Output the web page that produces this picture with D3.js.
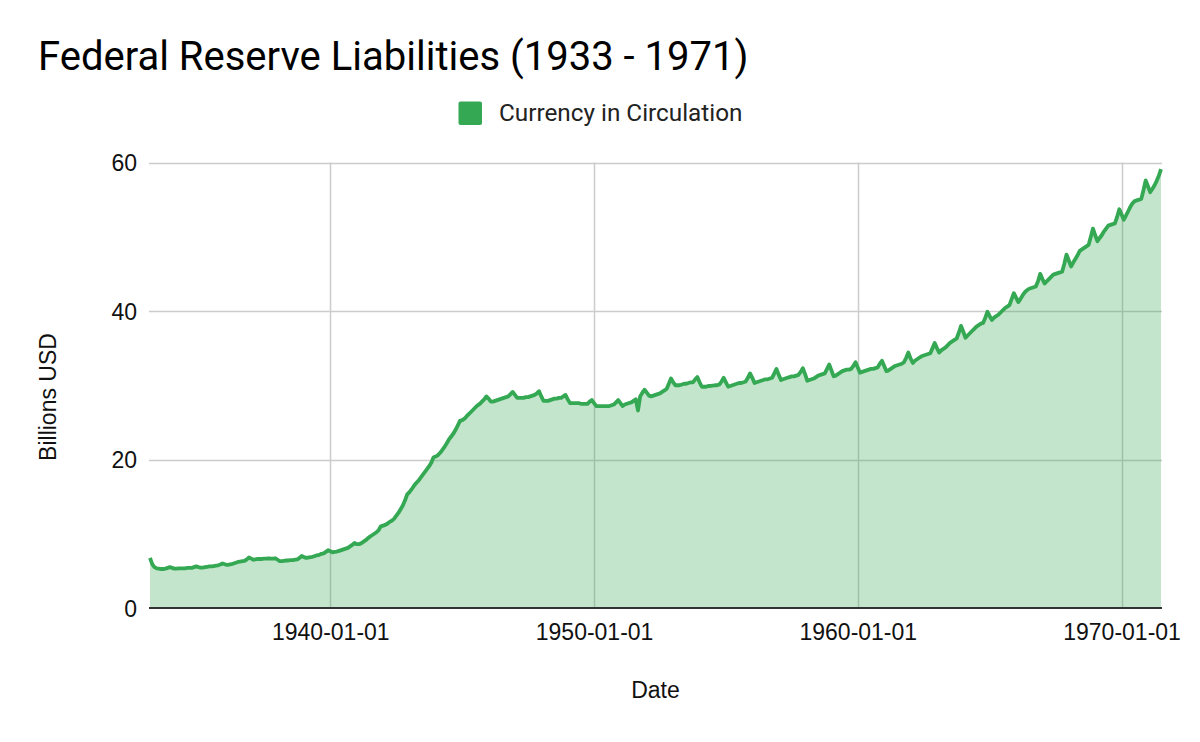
<!DOCTYPE html>
<html>
<head>
<meta charset="utf-8">
<script src="https://cdn.jsdelivr.net/npm/d3@7"></script>
<style>
  html, body { margin: 0; padding: 0; background: #fff; }
  svg { display: block; }
</style>
</head>
<body>
<svg id="chart" width="1200" height="742"></svg>
<script>
// ---- Data (monthly, billions USD) ----
const seriesName = "Currency in Circulation";
const firstMonth = "1933-03";   // first observation
// 1933 (Mar-Dec) through 1939
const currency1930s = [
  6.75, 5.9, 5.5, 5.35, 5.3, 5.25, 5.25, 5.3, 5.4, 5.5,
  5.4, 5.3, 5.3, 5.35, 5.35, 5.35, 5.35, 5.4, 5.4, 5.4, 5.5, 5.6,
  5.5, 5.45, 5.45, 5.5, 5.55, 5.6, 5.6, 5.65, 5.7, 5.75, 5.85, 6.0,
  5.9, 5.8, 5.85, 5.9, 6.0, 6.1, 6.2, 6.25, 6.3, 6.35, 6.55, 6.8,
  6.65, 6.5, 6.55, 6.6, 6.6, 6.6, 6.65, 6.65, 6.7, 6.65, 6.65, 6.7,
  6.5, 6.3, 6.3, 6.35, 6.4, 6.4, 6.45, 6.45, 6.5, 6.55, 6.75, 7.0,
  6.85, 6.75, 6.8, 6.85, 6.9, 7.0, 7.1, 7.15, 7.3, 7.35, 7.55, 7.8
];
const currency1940s = [
  7.65, 7.5, 7.55, 7.6, 7.7, 7.8, 7.9, 8.0, 8.1, 8.3, 8.5, 8.75,
  8.6, 8.6, 8.7, 8.9, 9.1, 9.35, 9.6, 9.8, 10.0, 10.2, 10.5, 11.0,
  11.1, 11.2, 11.35, 11.6, 11.75, 12.0, 12.4, 12.8, 13.3, 13.8, 14.5, 15.3,
  15.6, 16.0, 16.4, 16.8, 17.1, 17.5, 17.9, 18.3, 18.7, 19.1, 19.6, 20.3,
  20.4, 20.6, 20.9, 21.3, 21.7, 22.2, 22.7, 23.1, 23.5, 24.0, 24.6, 25.2,
  25.3, 25.5, 25.8, 26.1, 26.4, 26.7, 27.0, 27.3, 27.5, 27.8, 28.1, 28.5,
  28.2, 27.8, 27.8, 27.9, 28.0, 28.1, 28.2, 28.3, 28.4, 28.5, 28.8, 29.1,
  28.7, 28.3, 28.3, 28.3, 28.3, 28.4, 28.4, 28.5, 28.6, 28.7, 28.9, 29.2,
  28.5, 27.9, 27.9, 27.9, 28.0, 28.1, 28.2, 28.2, 28.3, 28.3, 28.5, 28.7,
  28.1, 27.6, 27.6, 27.6, 27.6, 27.6, 27.5, 27.5, 27.5, 27.5, 27.8, 28.0
];
const currency1950s = [
  27.6, 27.2, 27.2, 27.2, 27.2, 27.2, 27.2, 27.2, 27.3, 27.4, 27.7, 28.0,
  27.6, 27.2, 27.4, 27.5, 27.6, 27.7, 27.9, 28.1, 26.6, 28.5, 29.0, 29.4,
  29.0, 28.6, 28.5, 28.6, 28.7, 28.8, 28.9, 29.1, 29.3, 29.5, 30.2, 30.9,
  30.4, 30.0, 30.0, 30.0, 30.1, 30.2, 30.2, 30.3, 30.4, 30.4, 30.8, 31.1,
  30.4, 29.8, 29.8, 29.8, 29.9, 29.9, 29.95, 30.0, 30.0, 30.1, 30.5, 31.0,
  30.4, 29.8, 29.9, 30.0, 30.1, 30.2, 30.3, 30.3, 30.4, 30.5, 31.0, 31.6,
  31.0, 30.3, 30.4, 30.5, 30.6, 30.7, 30.8, 30.8, 30.9, 31.0, 31.6, 32.2,
  31.4, 30.7, 30.8, 30.9, 31.0, 31.1, 31.2, 31.2, 31.3, 31.4, 31.8, 32.3,
  31.5, 30.6, 30.7, 30.8, 30.9, 31.1, 31.3, 31.4, 31.5, 31.6, 32.2, 32.8,
  32.0, 31.2, 31.3, 31.5, 31.7, 31.9, 32.0, 32.1, 32.1, 32.2, 32.6, 33.1
];
const currency1960s = [
  32.4, 31.7, 31.8, 31.9, 32.0, 32.1, 32.2, 32.2, 32.3, 32.4, 32.9, 33.3,
  32.6, 31.9, 32.0, 32.2, 32.4, 32.6, 32.7, 32.8, 32.9, 33.1, 33.7, 34.4,
  33.6, 33.0, 33.3, 33.5, 33.7, 33.9, 34.0, 34.1, 34.2, 34.3, 35.0, 35.7,
  35.0, 34.4, 34.7, 34.9, 35.1, 35.4, 35.7, 35.9, 36.1, 36.3, 37.1, 38.0,
  37.2, 36.4, 36.7, 37.0, 37.3, 37.6, 37.9, 38.1, 38.3, 38.4, 39.1, 39.9,
  39.3, 38.8, 39.1, 39.3, 39.5, 39.8, 40.1, 40.4, 40.6, 40.8, 41.6, 42.4,
  41.8, 41.2, 41.6, 42.1, 42.5, 42.8, 43.0, 43.1, 43.2, 43.3, 44.0, 45.0,
  44.3, 43.7, 44.0, 44.3, 44.6, 44.9, 45.0, 45.1, 45.2, 45.3, 46.4, 47.6,
  46.8, 46.0, 46.5, 47.0, 47.5, 48.1, 48.3, 48.5, 48.7, 48.9, 50.0, 51.1,
  50.2, 49.4, 49.8, 50.2, 50.7, 51.1, 51.5, 51.6, 51.7, 51.8, 52.7, 53.7
];
// 1970 through Jul 1971
const currency1970s = [
  53.0, 52.3, 52.8, 53.4, 54.0, 54.5, 54.8, 54.9, 55.0, 55.1, 56.3, 57.6,
  56.8, 56.0, 56.4, 56.9, 57.5, 58.2, 59.1
];
const yTicks = [0, 20, 40, 60];
const xTickLabels = ["1940-01-01", "1950-01-01", "1960-01-01", "1970-01-01"];

// ---- Build the table ----
const allValues = [].concat(currency1930s, currency1940s, currency1950s, currency1960s, currency1970s);
const parseMonth = d3.timeParse("%Y-%m");
const parseDay = d3.timeParse("%Y-%m-%d");
const startDate = parseMonth(firstMonth);
const data = allValues.map((v, i) => ({ date: d3.timeMonth.offset(startDate, i), value: v }));

// ---- Layout ----
const svg = d3.select("#chart");
const plotL = 150, plotR = 1161, plotT = 162.5, plotB = 608;
const green = "#34a853";

const x = d3.scaleTime().domain(d3.extent(data, d => d.date)).range([plotL, plotR]);
const y = d3.scaleLinear().domain([0, 60]).range([plotB, plotT]);

// Title
svg.append("text")
  .attr("x", 38).attr("y", 70)
  .attr("font-family", "Roboto, 'Liberation Sans', Arial, sans-serif")
  .attr("font-size", 40).attr("fill", "#000")
  .text("Federal Reserve Liabilities (1933 - 1971)");

// Legend
const legend = svg.append("g");
legend.append("rect")
  .attr("x", 458.5).attr("y", 101.5).attr("width", 23.5).attr("height", 23.5)
  .attr("rx", 2).attr("fill", green);
legend.append("text")
  .attr("x", 499).attr("y", 121)
  .attr("font-family", "Roboto, 'Liberation Sans', Arial, sans-serif")
  .attr("font-size", 24.3).attr("fill", "#222")
  .text(seriesName);

// Gridlines
const grid = svg.append("g");
grid.selectAll("line.h").data(yTicks.filter(t => t > 0)).enter().append("line")
  .attr("x1", plotL - 1).attr("x2", plotR + 1)
  .attr("y1", d => Math.round(y(d)) + 0.5).attr("y2", d => Math.round(y(d)) + 0.5)
  .attr("stroke", "#cccccc").attr("stroke-width", 1.5);
const xTickDates = xTickLabels.map(parseDay);
grid.selectAll("line.v").data(xTickDates).enter().append("line")
  .attr("x1", d => Math.round(x(d)) + 0.5).attr("x2", d => Math.round(x(d)) + 0.5)
  .attr("y1", plotT).attr("y2", plotB)
  .attr("stroke", "#cccccc").attr("stroke-width", 1.5);

// Area + line
const area = d3.area().x(d => x(d.date)).y0(y(0)).y1(d => y(d.value));
const line = d3.line().x(d => x(d.date)).y(d => y(d.value));
svg.append("path").datum(data).attr("d", area)
  .attr("fill", green).attr("fill-opacity", 0.3);
svg.append("path").datum(data).attr("d", line)
  .attr("fill", "none").attr("stroke", green).attr("stroke-width", 3.8)
  .attr("stroke-linejoin", "round").attr("stroke-linecap", "butt");

// Baseline (zero)
svg.append("line")
  .attr("x1", plotL - 1).attr("x2", plotR + 1)
  .attr("y1", y(0)).attr("y2", y(0))
  .attr("stroke", "#333333").attr("stroke-width", 2);

// Y axis labels
const yAxis = d3.axisLeft(y).tickValues(yTicks).tickSize(0).tickPadding(0).tickFormat(d3.format("d"));
const yg = svg.append("g").attr("transform", `translate(${plotL - 13},0)`).call(yAxis);
yg.select(".domain").remove();
yg.selectAll("text")
  .attr("font-family", "'Liberation Sans', Arial, sans-serif")
  .attr("font-size", 23).attr("fill", "#111").attr("dy", "0.35em");

// X axis labels
const xAxis = d3.axisBottom(x).tickValues(xTickDates).tickSize(0).tickPadding(0)
  .tickFormat((d, i) => xTickLabels[i]);
const xg = svg.append("g").attr("transform", `translate(0,${plotB + 32})`).call(xAxis);
xg.select(".domain").remove();
xg.selectAll("text")
  .attr("font-family", "'Liberation Sans', Arial, sans-serif")
  .attr("font-size", 23).attr("fill", "#111").attr("dy", 0);

// Axis titles
svg.append("text")
  .attr("x", (plotL + plotR) / 2).attr("y", 698)
  .attr("text-anchor", "middle")
  .attr("font-family", "'Liberation Sans', Arial, sans-serif")
  .attr("font-size", 23).attr("fill", "#111")
  .text("Date");
svg.append("text")
  .attr("transform", "translate(56,397) rotate(-90)")
  .attr("text-anchor", "middle")
  .attr("font-family", "'Liberation Sans', Arial, sans-serif")
  .attr("font-size", 23).attr("fill", "#111")
  .text("Billions USD");
</script>
</body>
</html>
